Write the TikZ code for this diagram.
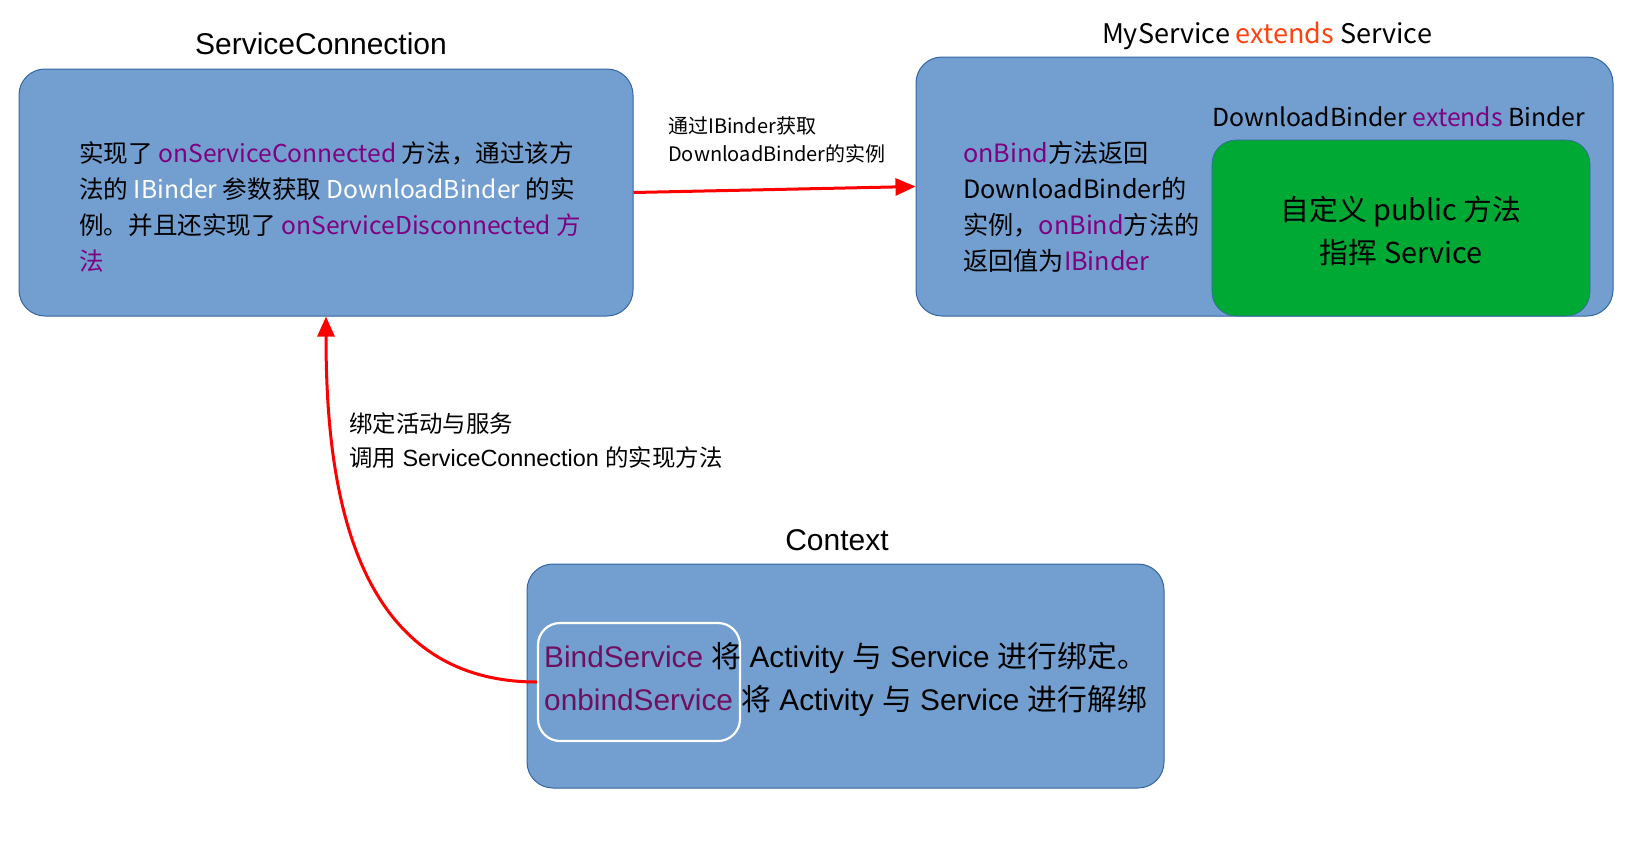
\documentclass[tikz,border=0pt]{standalone}
\usepackage{fontspec}
\setmainfont{Liberation Sans}
\newfontfamily\cjk{Noto Sans CJK SC}
\usetikzlibrary{arrows.meta}
\definecolor{boxfill}{HTML}{729FCF}
\definecolor{boxline}{HTML}{3465A4}
\definecolor{mpurple}{HTML}{800080}
\definecolor{dpurple}{HTML}{6E1060}
\definecolor{morange}{HTML}{FF420E}
\definecolor{mgreen}{HTML}{00A933}
\definecolor{redline}{HTML}{FF0000}
\newcommand\zh[1]{{\cjk #1}}
\newcommand\fs[2]{\fontsize{#1}{#2}\selectfont}
\tikzset{
  bluebox/.style={draw=boxline, line width=1pt, fill=boxfill, rounded corners=26pt, inner sep=0pt},
  greenbox/.style={draw=boxline, line width=0.6pt, fill=mgreen, rounded corners=24pt, inner sep=0pt},
  whitebox/.style={draw=white, line width=2.2pt, rounded corners=22pt, inner sep=0pt},
  txt/.style={inner sep=0pt, align=left},
  redarrow/.style={draw=redline, line width=3pt, -{Triangle[length=20pt,width=17pt]}},
}
\begin{document}
\begin{tikzpicture}[x=1pt,y=-1pt]
\useasboundingbox (0,0) rectangle (1645,844);
% boxes
\node[bluebox, minimum width=614pt, minimum height=247pt] (sc) at (326,192.5) {};
\node[bluebox, minimum width=697pt, minimum height=259pt] (ms) at (1264.5,186.5) {};
\node[greenbox, minimum width=378pt, minimum height=176pt] (gb) at (1401,228) {};
\node[bluebox, minimum width=637pt, minimum height=224pt] (ctx) at (845.5,676) {};
\node[whitebox, minimum width=202pt, minimum height=118pt] (wb) at (639,682) {};
% titles
\node[txt, font=\fs{30}{36}] (sct) at (321,44) {ServiceConnection};
\node[txt, font=\cjk\fs{27}{32}] (mst) at (1267,36) {MyService \textcolor{morange}{extends} Service};
\node[txt, font=\fs{30}{36}] (ctt) at (837,540) {Context};
\node[txt, anchor=west, font=\cjk\fs{24.8}{30}] (dbt) at (1212,117) {DownloadBinder \textcolor{mpurple}{extends} Binder};
% box texts
\node[txt, anchor=west, font=\cjk\fs{24.6}{36}] (sctext) at (79,207) {实现了 \textcolor{mpurple}{onServiceConnected} 方法，通过该方\\
法的 \textcolor{white}{IBinder} 参数获取 \textcolor{white}{DownloadBinder} 的实\\
例。并且还实现了 \textcolor{mpurple}{onServiceDisconnected 方}\\
\textcolor{mpurple}{法}};
\node[txt, anchor=west, font=\cjk\fs{25.2}{36}] (mstext) at (963,207) {\textcolor{mpurple}{onBind}方法返回\\
DownloadBinder的\\
实例，\textcolor{mpurple}{onBind}方法的\\
返回值为\textcolor{mpurple}{IBinder}};
\node[txt, align=center, font=\cjk\fs{28.8}{43}] (gtext) at (1401,231) {自定义 public 方法\\指挥 Service};
\node[txt, anchor=west, font=\fs{29.8}{43}] (ctext) at (544,679) {\textcolor{dpurple}{BindService} \zh{将} Activity \zh{与} Service \zh{进行绑定。}\\
\textcolor{dpurple}{onbindService} \zh{将} Activity \zh{与} Service \zh{进行解绑}};
% arrows
\draw[redarrow] (sc.east) -- (ms.west);
\node[txt, anchor=west, font=\cjk\fs{20}{28}] (lab1) at (668,140) {通过IBinder获取\\DownloadBinder的实例};
\draw[redarrow] (wb.west) .. controls (345,682) and (326,470) .. (sc.south);
\node[txt, anchor=west, font=\fs{23.4}{34}] (lab2) at (349,441) {\zh{绑定活动与服务}\\\zh{调用} ServiceConnection \zh{的实现方法}};
\end{tikzpicture}
\end{document}
